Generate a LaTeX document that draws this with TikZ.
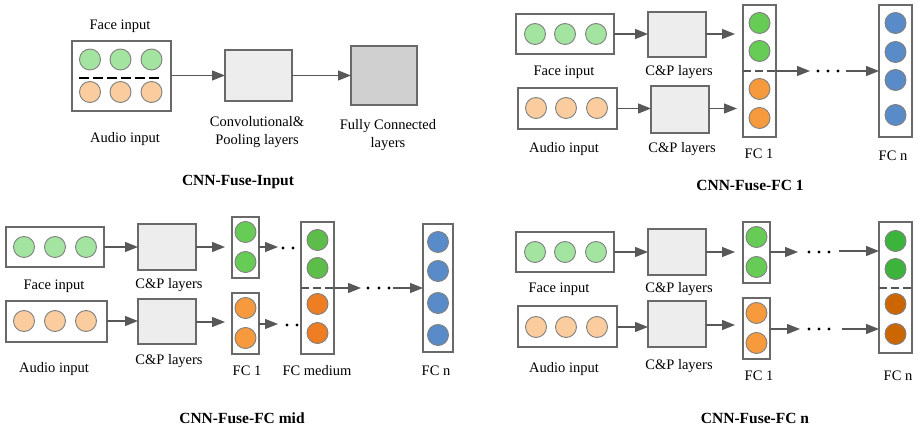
\documentclass[tikz,border=0pt]{standalone}
\usepackage{fontspec}
\setmainfont{Liberation Serif}
\usetikzlibrary{arrows.meta}
\definecolor{lgreen}{RGB}{163,228,160}
\definecolor{lorange}{RGB}{250,204,158}
\definecolor{fgreen}{RGB}{102,204,85}
\definecolor{forange}{RGB}{247,153,61}
\definecolor{mgreen}{RGB}{92,190,72}
\definecolor{morange}{RGB}{238,125,36}
\definecolor{ngreen}{RGB}{60,180,60}
\definecolor{norange}{RGB}{204,102,0}
\definecolor{nblue}{RGB}{88,139,199}
\definecolor{cpfill}{RGB}{237,237,237}
\definecolor{fcfill}{RGB}{208,208,208}
\definecolor{boxgray}{RGB}{105,105,105}
\definecolor{cgray}{RGB}{128,128,128}
\definecolor{agray}{RGB}{88,88,88}
\definecolor{dgray}{RGB}{85,85,85}
\newcommand{\mybox}[6]{\node[boxst,fill=#6,minimum width={(#4-#2)*1pt},minimum height={(#5-#3)*1pt}] (#1) at ({(#2+#4)/2},{(#3+#5)/2}) {};}
\newcommand{\threedots}[4]{\fill (#1,#4) circle (1.6pt); \fill (#2,#4) circle (1.6pt); \fill (#3,#4) circle (1.6pt);}
\begin{document}
\begin{tikzpicture}[x=1pt,y=-1pt,
  boxst/.style={draw=boxgray,line width=1.2pt,inner sep=0pt,outer sep=0pt},
  circ/.style={circle,draw=cgray,line width=0.9pt,minimum size=21pt,inner sep=0pt},
  arr/.style={draw=agray,line width=1.1pt,-{Triangle[length=13pt,width=10pt]}},
  divd/.style={draw=dgray,line width=2pt,dash pattern=on 8pt off 4pt},
  lbl/.style={font=\fontsize{14.5}{18}\selectfont,inner sep=0pt,align=center},
  ttl/.style={font=\fontsize{15.5}{18}\selectfont\bfseries,inner sep=0pt}]
\useasboundingbox (0,0) rectangle (919,427);

% ================= Panel 1: CNN-Fuse-Input =================
\mybox{in1}{72}{41}{171}{111}{white}
\foreach \x [count=\i] in {90,120.5,151.5} {
  \node[circ,fill=lgreen] (p1g\i) at (\x,59.5) {};
  \node[circ,fill=lorange] (p1o\i) at (\x,92) {};
}
\draw[black,line width=2.5pt,dash pattern=on 10pt off 4pt] (79,78) -- (160,78);
\mybox{conv1}{225}{50}{292}{101}{cpfill}
\mybox{fcb1}{351}{46}{417}{105}{fcfill}
\draw[arr] (in1.east |- conv1) -- (conv1.west);
\draw[arr] (conv1.east) -- (fcb1.west |- conv1);
\node[lbl] (t1f) at (120,26) {Face input};
\node[lbl] (t1a) at (125,139) {Audio input};
\node[lbl] (t1c) at (257,132) {Convolutional\&\\Pooling layers};
\node[lbl] (t1fc) at (388,135) {Fully Connected\\layers};
\node[ttl] (t1) at (238,182) {CNN-Fuse-Input};

% ================= Panel 2: CNN-Fuse-FC 1 =================
\mybox{face2}{516}{14}{614}{54}{white}
\mybox{aud2}{518}{88}{617}{129}{white}
\foreach \x [count=\i] in {535,565,596} {
  \node[circ,fill=lgreen] (p2g\i) at (\x,34) {};
  \node[circ,fill=lorange] (p2o\i) at (\x+1,108) {};
}
\mybox{cp2a}{648}{12}{706}{57}{cpfill}
\mybox{cp2b}{651}{86}{709}{133}{cpfill}
\mybox{fc2a}{743}{5}{776}{137}{white}
\mybox{fc2n}{879}{5}{912}{137}{white}
\foreach \y [count=\i] in {23,51} \node[circ,fill=fgreen] (p2fg\i) at (759.5,\y) {};
\foreach \y [count=\i] in {89,118} \node[circ,fill=forange] (p2fo\i) at (759.5,\y) {};
\foreach \y [count=\i] in {23,52,80,115} \node[circ,fill=nblue] (p2n\i) at (895.5,\y) {};
\draw[arr] (face2.east) -- (cp2a.west |- face2.east);
\draw[arr] (aud2.east) -- (cp2b.west |- aud2.east);
\draw[arr,shorten >=8pt] (cp2a.east |- face2.east) -- (fc2a.west |- face2.east);
\draw[arr,shorten >=6pt] (cp2b.east |- aud2.east) -- (fc2a.west |- aud2.east);
\draw[divd] (fc2a.west |- 0,71) -- (fc2a.east |- 0,71);
\coordinate (a2e) at (810,71);
\coordinate (a2s) at (846,71);
\draw[arr] (fc2a.east |- a2e) -- (a2e);
\threedots{818}{828}{838}{71}
\draw[arr] (a2s) -- (a2s -| fc2n.west);
\node[lbl] (t2f) at (564,72) {Face input};
\node[lbl] (t2c1) at (679,72) {C\&P layers};
\node[lbl] (t2a) at (564,149) {Audio input};
\node[lbl] (t2c2) at (682,149) {C\&P layers};
\node[lbl] (t2fc1) at (759,154) {FC 1};
\node[lbl] (t2fcn) at (893,156) {FC n};
\node[ttl] (t2) at (750,185) {CNN-Fuse-FC 1};

% ================= Panel 3: CNN-Fuse-FC mid =================
\mybox{face3}{6}{227}{104}{267}{white}
\mybox{aud3}{6}{301}{107}{342}{white}
\foreach \x [count=\i] in {24,55,86} {
  \node[circ,fill=lgreen] (p3g\i) at (\x,247) {};
  \node[circ,fill=lorange] (p3o\i) at (\x,321) {};
}
\mybox{cp3a}{138}{224}{196}{270}{cpfill}
\mybox{cp3b}{138}{299}{196}{344}{cpfill}
\mybox{fc3a}{232}{217}{259}{278}{white}
\mybox{fc3b}{232}{293}{259}{354}{white}
\mybox{fc3m}{301}{222}{334}{354}{white}
\mybox{fc3n}{423}{224}{453}{352}{white}
\foreach \y [count=\i] in {232,262} \node[circ,fill=fgreen] (p3fg\i) at (245.5,\y) {};
\foreach \y [count=\i] in {308,338} \node[circ,fill=forange] (p3fo\i) at (245.5,\y) {};
\foreach \y [count=\i] in {240,268} \node[circ,fill=mgreen] (p3mg\i) at (317.5,\y) {};
\foreach \y [count=\i] in {304,333} \node[circ,fill=morange] (p3mo\i) at (317.5,\y) {};
\foreach \y [count=\i] in {242,271,303,335} \node[circ,fill=nblue] (p3n\i) at (438,\y) {};
\draw[arr] (face3.east) -- (cp3a.west |- face3.east);
\draw[arr] (aud3.east |- 0,321) -- (cp3b.west |- 0,321);
\draw[arr,shorten >=7pt] (cp3a.east |- face3.east) -- (fc3a.west |- face3.east);
\draw[arr,shorten >=7pt] (cp3b.east |- 0,322) -- (fc3b.west |- 0,322);
\coordinate (a3g) at (278,247);
\coordinate (a3o) at (278,324);
\draw[arr] (fc3a.east |- a3g) -- (a3g);
\draw[arr] (fc3b.east |- a3o) -- (a3o);
\fill (283,248) circle (1.6pt); \fill (293,248) circle (1.6pt);
\fill (287,325) circle (1.6pt); \fill (297,325) circle (1.6pt);
\draw[divd] (fc3m.west |- 0,288) -- (fc3m.east |- 0,288);
\coordinate (a3e) at (361,288);
\coordinate (a3s) at (393,288);
\draw[arr] (fc3m.east |- a3e) -- (a3e);
\threedots{368}{379}{389}{288}
\draw[arr] (a3s) -- (a3s -| fc3n.west);
\node[lbl] (t3f) at (54,286) {Face input};
\node[lbl] (t3c1) at (169,285) {C\&P layers};
\node[lbl] (t3a) at (54,369) {Audio input};
\node[lbl] (t3c2) at (169,361) {C\&P layers};
\node[lbl] (t3fc1) at (247,371) {FC 1};
\node[lbl] (t3fcm) at (317,371) {FC medium};
\node[lbl] (t3fcn) at (436,371) {FC n};
\node[ttl] (t3) at (242,418) {CNN-Fuse-FC mid};

% ================= Panel 4: CNN-Fuse-FC n =================
\mybox{face4}{516}{232}{614}{272}{white}
\mybox{aud4}{518}{306}{617}{347}{white}
\foreach \x [count=\i] in {535,565,596} {
  \node[circ,fill=lgreen] (p4g\i) at (\x,252) {};
  \node[circ,fill=lorange] (p4o\i) at (\x+1,327) {};
}
\mybox{cp4a}{648}{229}{706}{275}{cpfill}
\mybox{cp4b}{648}{301}{706}{347}{cpfill}
\mybox{fc4a}{743}{222}{770}{283}{white}
\mybox{fc4b}{743}{298}{770}{359}{white}
\mybox{fc4n}{879}{222}{912}{353}{white}
\foreach \y [count=\i] in {237,267} \node[circ,fill=fgreen] (p4fg\i) at (756.5,\y) {};
\foreach \y [count=\i] in {313,343} \node[circ,fill=forange] (p4fo\i) at (756.5,\y) {};
\foreach \y [count=\i] in {241,269} \node[circ,fill=ngreen] (p4ng\i) at (895.5,\y) {};
\foreach \y [count=\i] in {304,334} \node[circ,fill=norange] (p4no\i) at (895.5,\y) {};
\draw[divd] (fc4n.west |- 0,288) -- (fc4n.east |- 0,288);
\draw[arr] (face4.east) -- (cp4a.west |- face4.east);
\draw[arr] (aud4.east |- 0,327) -- (cp4b.west |- 0,327);
\draw[arr,shorten >=8pt] (cp4a.east |- 0,252) -- (fc4a.west |- 0,252);
\draw[arr,shorten >=8pt] (cp4b.east |- 0,325) -- (fc4b.west |- 0,325);
\coordinate (a4ge) at (798,252);
\coordinate (a4gs) at (839,251);
\coordinate (a4oe) at (800,329);
\coordinate (a4os) at (842,329);
\draw[arr] (fc4a.east |- a4ge) -- (a4ge);
\threedots{809}{819}{829}{252}
\draw[arr] (a4gs) -- (a4gs -| fc4n.west);
\draw[arr] (fc4b.east |- a4oe) -- (a4oe);
\threedots{809}{819}{829}{329}
\draw[arr] (a4os) -- (a4os -| fc4n.west);
\node[lbl] (t4f) at (559,289) {Face input};
\node[lbl] (t4c1) at (679,289) {C\&P layers};
\node[lbl] (t4a) at (564,369) {Audio input};
\node[lbl] (t4c2) at (679,366) {C\&P layers};
\node[lbl] (t4fc1) at (759,376) {FC 1};
\node[lbl] (t4fcn) at (898,376) {FC n};
\node[ttl] (t4) at (755,418) {CNN-Fuse-FC n};
\end{tikzpicture}
\end{document}
